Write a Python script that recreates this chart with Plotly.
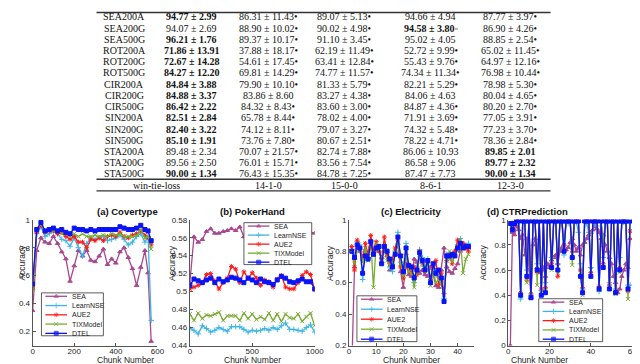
import plotly.graph_objects as go

# ---------------- table data ----------------
datasets = ["SEA200A", "SEA200G", "SEA500G", "ROT200A", "ROT200G", "ROT500G",
            "CIR200A", "CIR200G", "CIR500G", "SIN200A", "SIN200G", "SIN500G",
            "STA200A", "STA200G", "STA500G"]

dtel_mean = [94.77, 94.07, 96.21, 71.86, 72.67, 84.27, 84.84, 84.88, 86.42, 82.51, 82.40, 85.10, 89.48, 89.56, 90.00]
dtel_std = [2.99, 2.69, 1.76, 13.91, 14.28, 12.20, 3.88, 3.37, 2.22, 2.84, 3.22, 1.91, 2.34, 2.50, 1.34]
dtel_sig = [""] * 15

sea_mean = [86.31, 88.90, 89.37, 37.88, 54.61, 69.81, 79.90, 83.86, 84.32, 65.78, 74.12, 73.76, 70.07, 76.01, 76.43]
sea_std = [11.43, 10.02, 10.17, 18.17, 17.45, 14.29, 10.10, 8.60, 8.43, 8.44, 8.11, 7.80, 21.57, 15.71, 15.35]
sea_sig = ["•", "•", "•", "•", "•", "•", "•", "", "•", "•", "•", "•", "•", "•", "•"]

nse_mean = [89.07, 90.02, 91.10, 62.19, 63.41, 74.77, 81.33, 83.27, 83.60, 78.02, 79.07, 80.67, 82.74, 83.56, 84.78]
nse_std = [5.13, 4.98, 3.45, 11.49, 12.84, 11.57, 5.79, 4.38, 3.00, 4.00, 3.27, 2.51, 7.88, 7.54, 7.25]
nse_sig = ["•"] * 15

aue_mean = [94.66, 94.58, 95.02, 52.72, 55.43, 74.34, 82.21, 84.06, 84.87, 71.91, 74.32, 78.22, 86.06, 86.58, 87.47]
aue_std = [4.94, 3.80, 4.05, 9.99, 9.76, 11.34, 5.29, 4.63, 4.36, 3.69, 5.48, 4.71, 10.93, 9.06, 7.73]
aue_sig = ["", "◦", "", "•", "•", "•", "•", "", "•", "•", "•", "•", "", "", ""]

tix_mean = [87.77, 86.90, 88.85, 65.02, 64.97, 76.98, 78.98, 80.04, 80.20, 77.05, 77.23, 78.36, 89.85, 89.77, 90.00]
tix_std = [3.97, 4.26, 2.54, 11.45, 12.16, 10.44, 5.30, 4.65, 2.70, 3.91, 3.70, 2.84, 2.01, 2.32, 1.34]
tix_sig = ["•", "•", "•", "•", "•", "•", "•", "•", "•", "•", "•", "•", "", "", ""]

win_tie_loss = ["14-1-0", "15-0-0", "8-6-1", "12-3-0"]

# ---------------- chart data ----------------
cov_x = [0, 20, 40, 60, 80, 100, 120, 140, 160, 180, 200, 220, 240, 260, 280, 300, 320, 340,
         360, 380, 400, 420, 440, 460, 480, 500, 520, 540, 555, 570]
cov_sea = [0.35, 0.78, 0.87, 0.84, 0.83, 0.88, 0.83, 0.77, 0.72, 0.56, 0.67, 0.78, 0.74, 0.78, 0.71,
           0.70, 0.74, 0.79, 0.68, 0.72, 0.69, 0.77, 0.80, 0.73, 0.65, 0.53, 0.66, 0.78, 0.62, 0.13]
cov_nse = [0.50, 0.90, 0.95, 0.88, 0.90, 0.92, 0.90, 0.86, 0.85, 0.81, 0.87, 0.80, 0.74, 0.83, 0.87,
           0.86, 0.87, 0.88, 0.85, 0.86, 0.87, 0.89, 0.86, 0.82, 0.84, 0.88, 0.90, 0.84, 0.88, 0.28]
cov_aue = [0.51, 0.91, 0.96, 0.91, 0.92, 0.92, 0.90, 0.91, 0.88, 0.86, 0.88, 0.84, 0.84, 0.80, 0.86,
           0.85, 0.87, 0.85, 0.88, 0.89, 0.88, 0.91, 0.88, 0.87, 0.89, 0.90, 0.92, 0.89, 0.87, 0.82]
cov_tix = [0.50, 0.93, 0.97, 0.91, 0.93, 0.92, 0.93, 0.90, 0.90, 0.88, 0.90, 0.88, 0.90, 0.88, 0.88,
           0.89, 0.88, 0.89, 0.88, 0.90, 0.89, 0.90, 0.88, 0.88, 0.88, 0.89, 0.93, 0.87, 0.88, 0.79]
cov_dtel = [0.54, 0.93, 0.98, 0.92, 0.93, 0.94, 0.92, 0.93, 0.91, 0.90, 0.94, 0.93, 0.93, 0.92, 0.93,
            0.92, 0.93, 0.93, 0.93, 0.93, 0.93, 0.95, 0.94, 0.93, 0.93, 0.94, 0.96, 0.93, 0.92, 0.85]

pok_x = [0, 33, 67, 100, 133, 167, 200, 233, 267, 300, 333, 367, 400, 433, 467, 500, 533, 567,
         600, 633, 667, 700, 733, 767, 800, 833, 867, 900, 933, 967, 1000]
pok_sea = [0.510, 0.561, 0.555, 0.558, 0.567, 0.570, 0.565, 0.565, 0.567, 0.568, 0.570, 0.568, 0.572,
           0.561, 0.565, 0.567, 0.563, 0.566, 0.568, 0.564, 0.567, 0.566, 0.569, 0.565, 0.567, 0.564,
           0.566, 0.568, 0.573, 0.566, 0.565]
pok_nse = [0.459, 0.457, 0.453, 0.462, 0.459, 0.455, 0.457, 0.460, 0.458, 0.456, 0.461, 0.461, 0.461,
           0.458, 0.455, 0.457, 0.456, 0.457, 0.459, 0.457, 0.460, 0.458, 0.462, 0.465, 0.458, 0.458,
           0.457, 0.456, 0.460, 0.463, 0.455]
pok_aue = [0.503, 0.505, 0.507, 0.510, 0.519, 0.520, 0.512, 0.503, 0.510, 0.515, 0.528, 0.525, 0.510,
           0.522, 0.515, 0.521, 0.515, 0.507, 0.513, 0.511, 0.505, 0.514, 0.518, 0.505, 0.503, 0.503,
           0.510, 0.518, 0.522, 0.519, 0.502]
pok_tix = [0.475, 0.468, 0.476, 0.470, 0.474, 0.473, 0.475, 0.477, 0.468, 0.473, 0.473, 0.473, 0.468,
           0.476, 0.470, 0.475, 0.469, 0.472, 0.469, 0.476, 0.468, 0.475, 0.467, 0.475, 0.471, 0.470,
           0.475, 0.467, 0.472, 0.476, 0.462]
pok_dtel = [0.507, 0.514, 0.512, 0.510, 0.513, 0.515, 0.510, 0.514, 0.511, 0.513, 0.516, 0.515, 0.513,
            0.510, 0.515, 0.513, 0.510, 0.514, 0.511, 0.510, 0.508, 0.513, 0.517, 0.515, 0.511, 0.510,
            0.512, 0.514, 0.511, 0.511, 0.503]

ele_x = [1, 2, 3, 4, 5, 6, 7, 8, 9, 10, 11, 12, 13, 14, 15, 16, 17, 18, 19, 20, 21, 22,
         23, 24, 25, 26, 27, 28, 29, 30, 31, 32, 33, 34, 35, 36, 37, 38, 39, 40, 41, 42, 43, 44]
ele_sea = [0.05, 0.70, 0.82, 0.80, 0.77, 0.80, 0.76, 0.83, 0.80, 0.82, 0.80, 0.76, 0.80, 0.77, 0.68,
           0.72, 0.78, 0.85, 0.67, 0.57, 0.72, 0.65, 0.64, 0.75, 0.73, 0.66, 0.68, 0.65, 0.64, 0.70,
           0.65, 0.58, 0.57, 0.68, 0.82, 0.70, 0.67, 0.66, 0.69, 0.72, 0.80, 0.85, 0.84, 0.82]
ele_nse = [0.81, 0.75, 0.86, 0.84, 0.62, 0.80, 0.76, 0.87, 0.80, 0.84, 0.82, 0.73, 0.84, 0.79, 0.70,
           0.67, 0.80, 0.92, 0.73, 0.70, 0.85, 0.70, 0.68, 0.60, 0.70, 0.81, 0.76, 0.70, 0.75, 0.63,
           0.69, 0.65, 0.64, 0.61, 0.50, 0.78, 0.76, 0.77, 0.80, 0.84, 0.88, 0.83, 0.82, 0.85]
ele_aue = [0.83, 0.68, 0.87, 0.82, 0.75, 0.85, 0.78, 0.90, 0.80, 0.86, 0.80, 0.75, 0.89, 0.78, 0.72,
           0.75, 0.82, 0.87, 0.70, 0.63, 0.78, 0.69, 0.66, 0.70, 0.65, 0.80, 0.72, 0.68, 0.73, 0.62,
           0.70, 0.74, 0.59, 0.66, 0.53, 0.74, 0.78, 0.72, 0.80, 0.87, 0.84, 0.85, 0.82, 0.80]
ele_tix = [0.80, 0.72, 0.85, 0.80, 0.73, 0.82, 0.74, 0.86, 0.57, 0.85, 0.81, 0.74, 0.82, 0.74, 0.71,
           0.72, 0.79, 0.86, 0.72, 0.64, 0.79, 0.67, 0.66, 0.57, 0.67, 0.78, 0.71, 0.67, 0.72, 0.58,
           0.67, 0.60, 0.62, 0.59, 0.52, 0.74, 0.80, 0.73, 0.77, 0.82, 0.87, 0.66, 0.75, 0.78]
ele_dtel = [0.80, 0.76, 0.84, 0.82, 0.66, 0.77, 0.75, 0.86, 0.78, 0.82, 0.83, 0.72, 0.83, 0.80, 0.75,
            0.70, 0.78, 0.89, 0.77, 0.67, 0.82, 0.71, 0.70, 0.63, 0.68, 0.79, 0.74, 0.68, 0.74, 0.60,
            0.72, 0.66, 0.68, 0.63, 0.48, 0.77, 0.77, 0.78, 0.77, 0.82, 0.85, 0.82, 0.83, 0.83]

ctr_x = [1, 2, 3, 4, 5, 6, 7, 8, 9, 10, 11, 12, 13, 14, 15, 16, 17, 18, 19, 20, 21, 22, 23, 24,
         25, 26, 27, 28, 29, 30, 31, 32, 33, 34, 35, 36, 37, 38, 39, 40, 41, 42, 43, 44, 45, 46,
         47, 48, 49, 50, 51, 52, 53, 54, 55, 56, 57, 58, 59]
ctr_sea = [0.00, 0.90, 0.88, 0.95, 0.92, 0.85, 0.88, 0.72, 0.85, 0.60, 0.38, 0.80, 0.85, 0.62, 0.58,
           0.60, 0.62, 0.55, 0.65, 0.62, 0.68, 0.70, 0.72, 0.65, 0.75, 0.78, 0.80, 0.76, 0.78, 0.82,
           0.85, 0.80, 0.75, 0.78, 0.72, 0.80, 0.82, 0.85, 0.88, 0.90, 0.92, 0.95, 0.93, 0.90, 0.85,
           0.88, 0.80, 0.75, 0.70, 0.65, 0.55, 0.50, 0.42, 0.45, 0.55, 0.60, 0.65, 0.62, 0.85]
ctr_nse = [0.96, 0.93, 0.96, 0.98, 0.98, 0.37, 0.98, 0.97, 0.60, 0.98, 0.40, 0.98, 0.97, 0.65, 0.98,
           0.44, 0.98, 0.50, 0.97, 0.98, 0.70, 0.98, 0.97, 0.65, 0.98, 0.97, 0.72, 0.98, 0.97, 0.98,
           0.70, 0.97, 0.98, 0.90, 0.65, 0.45, 0.98, 0.97, 0.90, 0.62, 0.98, 0.97, 0.95, 0.43, 0.98,
           0.70, 0.98, 0.97, 0.50, 0.98, 0.97, 0.45, 0.98, 0.70, 0.97, 0.98, 0.97, 0.48, 0.48]
ctr_aue = [0.97, 0.95, 0.98, 0.99, 0.99, 0.42, 0.99, 0.99, 0.52, 0.99, 0.41, 0.99, 0.99, 0.58, 0.99,
           0.45, 0.99, 0.46, 0.99, 0.99, 0.65, 0.99, 0.99, 0.55, 0.99, 0.99, 0.80, 0.99, 0.99, 0.99,
           0.75, 0.99, 0.99, 0.99, 0.60, 0.46, 0.99, 0.99, 0.99, 0.58, 0.99, 0.99, 0.99, 0.47, 0.99,
           0.65, 0.99, 0.99, 0.48, 0.99, 0.99, 0.43, 0.99, 0.62, 0.99, 0.99, 0.99, 0.43, 0.91]
ctr_tix = [0.97, 0.93, 0.97, 0.99, 0.99, 0.41, 0.99, 0.99, 0.50, 0.99, 0.40, 0.99, 0.99, 0.48, 0.99,
           0.42, 0.99, 0.44, 0.99, 0.99, 0.60, 0.99, 0.99, 0.58, 0.99, 0.99, 0.78, 0.99, 0.99, 0.99,
           0.64, 0.99, 0.99, 0.99, 0.58, 0.40, 0.99, 0.99, 0.99, 0.60, 0.99, 0.99, 0.99, 0.44, 0.99,
           0.80, 0.99, 0.99, 0.47, 0.99, 0.99, 0.41, 0.99, 0.58, 0.99, 0.99, 0.99, 0.37, 0.99]
ctr_dtel = [0.97, 0.92, 0.97, 0.99, 0.99, 0.40, 0.99, 0.99, 0.55, 0.99, 0.38, 0.99, 0.99, 0.60, 0.99,
            0.40, 0.99, 0.42, 0.99, 0.99, 0.62, 0.99, 0.99, 0.60, 0.99, 0.99, 0.75, 0.99, 0.99, 0.99,
            0.70, 0.99, 0.99, 0.99, 0.55, 0.42, 0.99, 0.99, 0.99, 0.55, 0.99, 0.99, 0.99, 0.45, 0.99,
            0.62, 0.99, 0.99, 0.45, 0.99, 0.99, 0.42, 0.99, 0.60, 0.99, 0.99, 0.99, 0.45, 0.99]

methods = ["SEA", "LearnNSE", "AUE2", "TIXModel", "DTEL"]
colors = ["#A8478F", "#3DB4E8", "#FF1A1A", "#77AC30", "#0A14F5"]
symbols = ["triangle-up", "cross-thin", "asterisk", "x-thin", "square"]

W, H = 640, 364
def px(x):
    return x / W
def py(y):
    return 1 - y / H

fig = go.Figure()

# ---------------- table ----------------
serif = "Liberation Serif"
col_x = [116, 185, 263, 340, 428, 509]
cols = [(dtel_mean, dtel_std, dtel_sig), (sea_mean, sea_std, sea_sig), (nse_mean, nse_std, nse_sig),
        (aue_mean, aue_std, aue_sig), (tix_mean, tix_std, tix_sig)]
ann = []
for i, name in enumerate(datasets):
    yy = py(5 + i * 11.5)
    ann.append(dict(x=px(col_x[0]), y=yy, text=name))
    best = max(c[0][i] for c in cols)
    for j, (m, s, g) in enumerate(cols):
        t = f"{m[i]:.2f} ± {s[i]:.2f}"
        if m[i] == best:
            t = f"<b>{t}</b>"
        ann.append(dict(x=px(col_x[j + 1]), y=yy, text=t + g[i]))
ann.append(dict(x=px(149), y=py(177.5), text="win-tie-loss"))
for j, w in enumerate(win_tie_loss):
    ann.append(dict(x=px(col_x[j + 2]), y=py(177.5), text=w))
for a in ann:
    a.update(xref="paper", yref="paper", showarrow=False, xanchor="center", yanchor="middle",
             font=dict(family=serif, size=10, color="#111"))

shapes = []
for yl, lw in [(0.5, 1.5), (171.5, 1.6), (183.5, 1.2)]:
    shapes.append(dict(type="line", xref="paper", yref="paper", x0=px(88), x1=px(550),
                       y0=py(yl), y1=py(yl), line=dict(color="#333", width=lw)))

# ---------------- charts ----------------
panels = [
    ("(a) Covertype", cov_x, [cov_sea, cov_nse, cov_aue, cov_tix, cov_dtel],
     (23, 150), [0, 600], [0, 200, 400, 600], [0.1, 1], [0.2, 0.4, 0.6, 0.8, 1], 5, (32, 288, 63, 44)),
    ("(b) PokerHand", pok_x, [pok_sea, pok_nse, pok_aue, pok_tix, pok_dtel],
     (183, 310), [0, 1000], [0, 500, 1000], [0.44, 0.58],
     [0.44, 0.46, 0.48, 0.5, 0.52, 0.54, 0.56, 0.58], 157, (238, 216, 69, 43)),
    ("(c) Electricity", ele_x, [ele_sea, ele_nse, ele_aue, ele_tix, ele_dtel],
     (345, 472), [0, 46], [0, 10, 20, 30, 40], [0.2, 1], [0.2, 0.4, 0.6, 0.8, 1], 325,
     (353, 291, 61, 47)),
    ("(d) CTRPrediction", ctr_x, [ctr_sea, ctr_nse, ctr_aue, ctr_tix, ctr_dtel],
     (507, 633), [0, 60], [0, 20, 40, 60], [0, 1], [0, 0.2, 0.4, 0.6, 0.8, 1], 488,
     (538, 294, 65, 44)),
]

sans = "Liberation Sans"
top_px, bot_px = 213, 342
for k, (title, xs, ys, (x0, x1), xr, xt, yr, yt, ylab_x, box) in enumerate(panels):
    sfx = "" if k == 0 else str(k + 1)
    for m, c, sym, y in zip(methods, colors, symbols, ys):
        fig.add_trace(go.Scatter(
            x=xs, y=y, name=m, mode="lines+markers", xaxis="x" + sfx, yaxis="y" + sfx,
            line=dict(color=c, width=1.3), showlegend=False, cliponaxis=True,
            marker=dict(symbol=sym, size=4, color=c, line=dict(color=c, width=1))))
    ax = dict(showline=True, linecolor="#555", linewidth=1, ticks="inside", ticklen=3,
              tickcolor="#555", showgrid=False, zeroline=False, mirror=False,
              tickfont=dict(family=sans, size=8, color="#262626"))
    fig.layout["xaxis" + sfx] = dict(ax, domain=[px(x0), px(x1)], range=xr, tickvals=xt,
                                     anchor="y" + sfx, ticklabelstandoff=-2)
    fig.layout["yaxis" + sfx] = dict(ax, domain=[py(bot_px), py(top_px)], range=yr, tickvals=yt,
                                     ticktext=[f"{v:g}" for v in yt], anchor="x" + sfx)
    xc = px((x0 + x1) / 2)
    ann.append(dict(x=xc, y=py(205), text=f"<b>{title}</b>", xref="paper", yref="paper",
                    showarrow=False, font=dict(family=sans, size=9.5, color="#111")))
    ann.append(dict(x=xc, y=0, text="Chunk Number", xref="paper", yref="paper",
                    yanchor="bottom", showarrow=False,
                    font=dict(family=sans, size=8.5, color="#262626")))
    ann.append(dict(x=px(ylab_x), y=py((top_px + bot_px) / 2), text="Accuracy", textangle=-90,
                    xref="paper", yref="paper", showarrow=False,
                    font=dict(family=sans, size=8.5, color="#262626")))

    # legend box drawn on a pixel-space overlay axis so it sits above the lines
    lx, ly, lw_, lh = box
    fig.add_trace(go.Scatter(x=[lx, lx + lw_, lx + lw_, lx, lx], y=[ly, ly, ly + lh, ly + lh, ly],
                             mode="lines", fill="toself", fillcolor="white",
                             line=dict(color="#333", width=0.8), xaxis="x5", yaxis="y5",
                             showlegend=False, hoverinfo="skip"))
    step = (lh - 6) / 4
    for e, (m, c, sym) in enumerate(zip(methods, colors, symbols)):
        ey = ly + 3.5 + e * step
        fig.add_trace(go.Scatter(x=[lx + 4, lx + 15, lx + 26], y=[ey, ey, ey], mode="lines+markers",
                                 line=dict(color=c, width=1.3), xaxis="x5", yaxis="y5",
                                 marker=dict(symbol=sym, size=[0, 4, 0], color=c,
                                             line=dict(color=c, width=1)),
                                 showlegend=False, hoverinfo="skip"))
        ann.append(dict(x=px(lx + 29), y=py(ey), text=m, xref="paper", yref="paper",
                        xanchor="left", yanchor="middle", showarrow=False,
                        font=dict(family=sans, size=7, color="#222")))

fig.layout["xaxis5"] = dict(domain=[0, 1], range=[0, W], visible=False, anchor="y5", fixedrange=True)
fig.layout["yaxis5"] = dict(domain=[0, 1], range=[H, 0], visible=False, anchor="x5", fixedrange=True)

fig.update_layout(width=W, height=H, margin=dict(l=0, r=0, t=0, b=0),
                  paper_bgcolor="white", plot_bgcolor="rgba(0,0,0,0)",
                  annotations=ann, shapes=shapes, showlegend=False)

fig.write_html("out.html")
